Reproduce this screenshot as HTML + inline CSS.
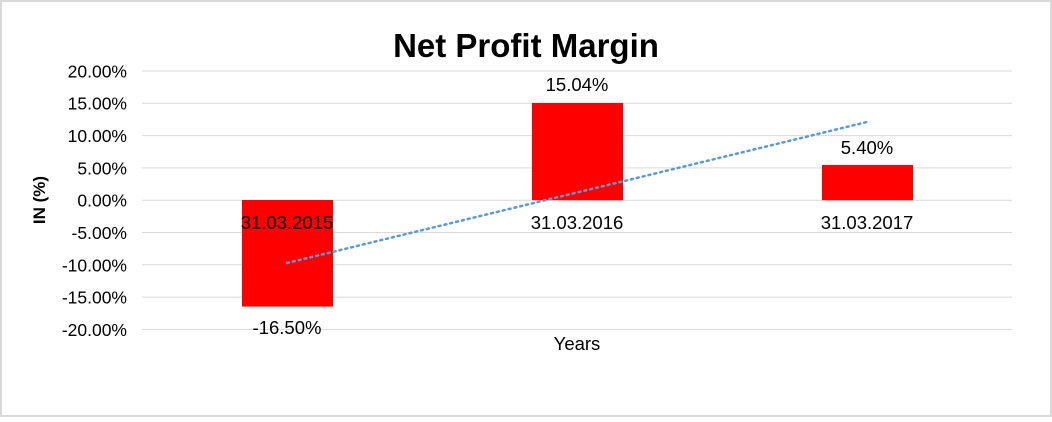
<!DOCTYPE html><html><head><style>body{margin:0;background:#fff}</style></head><body>
<svg width="1052" height="417" xmlns="http://www.w3.org/2000/svg" font-family="Liberation Sans, sans-serif">
<rect x="1" y="1" width="1050" height="415" fill="#fff" stroke="#d9d9d9" stroke-width="2"/>
<text x="526" y="57" font-size="33" font-weight="bold" text-anchor="middle">Net Profit Margin</text>
<g stroke="#d9d9d9" stroke-width="1">
<line x1="142" x2="1012" y1="71" y2="71"/><line x1="142" x2="1012" y1="103.3" y2="103.3"/>
<line x1="142" x2="1012" y1="135.6" y2="135.6"/><line x1="142" x2="1012" y1="167.9" y2="167.9"/>
<line x1="142" x2="1012" y1="200.2" y2="200.2"/><line x1="142" x2="1012" y1="232.5" y2="232.5"/>
<line x1="142" x2="1012" y1="264.8" y2="264.8"/><line x1="142" x2="1012" y1="297.1" y2="297.1"/>
<line x1="142" x2="1012" y1="329.4" y2="329.4"/></g>
<g font-size="17.5" text-anchor="end">
<text x="127" y="77.5">20.00%</text><text x="127" y="109.5">15.00%</text><text x="127" y="142">10.00%</text>
<text x="127" y="174.5">5.00%</text><text x="127" y="206.5">0.00%</text><text x="127" y="239">-5.00%</text>
<text x="127" y="271.5">-10.00%</text><text x="127" y="303.5">-15.00%</text><text x="127" y="336">-20.00%</text></g>
<text transform="translate(45,200) rotate(-90)" font-size="17" font-weight="bold" text-anchor="middle">IN (%)</text>
<rect x="242" y="200" width="91" height="106.6" fill="#ff0000"/>
<rect x="532" y="103" width="91" height="97.2" fill="#ff0000"/>
<rect x="822" y="165" width="91" height="35.2" fill="#ff0000"/>
<line x1="287" y1="263" x2="867" y2="122" stroke="#5b9bd5" stroke-width="2.5" stroke-dasharray="2,4" stroke-linecap="round"/>
<g font-size="18.5" text-anchor="middle">
<text x="287" y="229">31.03.2015</text><text x="577" y="229">31.03.2016</text><text x="867" y="229">31.03.2017</text>
<text x="287" y="334">-16.50%</text><text x="577" y="91">15.04%</text><text x="867" y="154">5.40%</text>
<text x="577" y="350">Years</text></g>
</svg></body></html>
